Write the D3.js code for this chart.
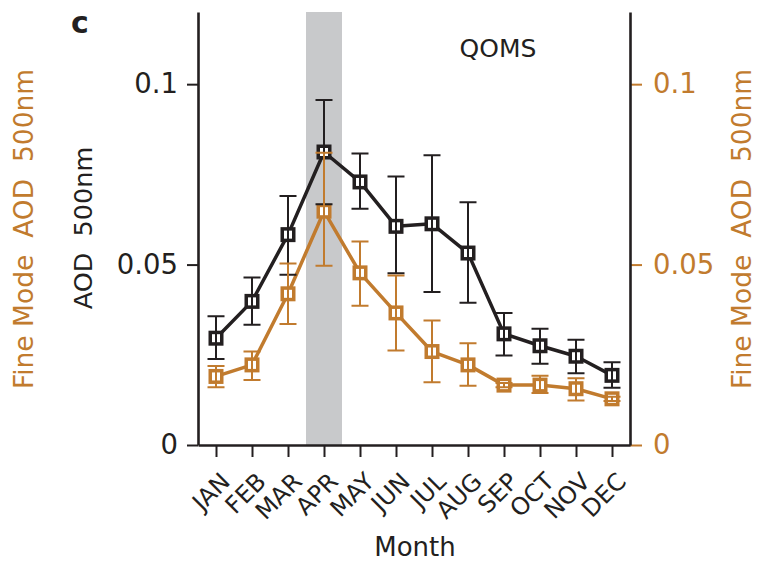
<!doctype html>
<html>
<head>
  <meta charset="UTF-8" />
  <title>QOMS monthly AOD</title>
  <style>
    html, body { margin: 0; background: #fff; }
    svg { font-family: "DejaVu Sans", sans-serif; }
  </style>
</head>
<body>
  <script src="https://cdnjs.cloudflare.com/ajax/libs/d3/7.8.5/d3.min.js"></script>
  <script>
    // data
    const months = ['JAN', 'FEB', 'MAR', 'APR', 'MAY', 'JUN', 'JUL', 'AUG', 'SEP', 'OCT', 'NOV', 'DEC'];
    const aod    = [0.0296, 0.0398, 0.0583, 0.0812, 0.0729, 0.0606, 0.0613, 0.0532, 0.0308, 0.0275, 0.0246, 0.0193];
    const aodHi  = [0.0357, 0.0464, 0.0690, 0.0956, 0.0808, 0.0744, 0.0803, 0.0673, 0.0366, 0.0322, 0.0292, 0.0229];
    const aodLo  = [0.0238, 0.0333, 0.0472, 0.0667, 0.0655, 0.0476, 0.0424, 0.0394, 0.0248, 0.0225, 0.0199, 0.0159];
    const fine   = [0.0190, 0.0222, 0.0419, 0.0648, 0.0477, 0.0366, 0.0259, 0.0222, 0.0166, 0.0166, 0.0156, 0.0128];
    const fineHi = [0.0219, 0.0259, 0.0503, 0.0810, 0.0564, 0.0470, 0.0345, 0.0282, 0.0172, 0.0192, 0.0185, 0.0134];
    const fineLo = [0.0160, 0.0180, 0.0335, 0.0497, 0.0386, 0.0262, 0.0174, 0.0164, 0.0160, 0.0144, 0.0123, 0.0122];
    const yTicks = [0, 0.05, 0.1];
    const highlight = 'APR';

    const BLACK = '#231f20', ORANGE = '#c17b2e';

    const width = 759, height = 561;
    const svg = d3.select('body').append('svg')
      .attr('width', width).attr('height', height);

    const x = d3.scalePoint().domain(months).range([198, 630]).padding(0.5);
    const y = d3.scaleLinear().domain([0, 0.12]).range([445, 12]);
    const step = x.step();

    // shaded month
    svg.append('rect')
      .attr('x', x(highlight) - step / 2).attr('width', step)
      .attr('y', y(0.12)).attr('height', y(0) - y(0.12))
      .attr('fill', '#c8c9cb');

    // axes
    const fmt = d3.format('');
    const left = svg.append('g').attr('transform', `translate(${x.range()[0]},0)`)
      .call(d3.axisLeft(y).tickValues(yTicks).tickSize(11).tickSizeOuter(0).tickPadding(9).tickFormat(fmt));
    const right = svg.append('g').attr('transform', `translate(${x.range()[1]},0)`)
      .call(d3.axisRight(y).tickValues(yTicks).tickSize(12).tickSizeOuter(0).tickPadding(11).tickFormat(fmt));
    const bottom = svg.append('g').attr('transform', `translate(0,${y(0)})`)
      .call(d3.axisBottom(x).tickSize(12).tickSizeOuter(0));

    [left, right, bottom].forEach(g => {
      g.attr('font-family', null).attr('font-size', null);
      g.select('.domain').attr('stroke', BLACK).attr('stroke-width', 2.6);
      g.selectAll('.tick line').attr('stroke', BLACK).attr('stroke-width', 2);
      g.selectAll('.tick text').attr('fill', BLACK).style('font-size', '27.5px');
    });
    right.selectAll('.tick line').attr('stroke', ORANGE);
    right.selectAll('.tick text').attr('fill', ORANGE);
    right.select('.domain').raise();

    bottom.selectAll('.tick text')
      .style('font-size', '24px')
      .attr('text-anchor', 'end')
      .attr('dy', null).attr('y', 0)
      .attr('transform', 'translate(15,38) rotate(-45)');

    // series
    function drawSeries(vals, color) {
      const line = d3.line().x((d, i) => x(months[i])).y(d => y(d));
      svg.append('path').datum(vals)
        .attr('fill', 'none').attr('stroke', color).attr('stroke-width', 3.5)
        .attr('stroke-linejoin', 'round')
        .attr('d', line);
      svg.append('g').selectAll('rect').data(vals).join('rect')
        .attr('x', (d, i) => x(months[i]) - 5.75).attr('y', d => y(d) - 5.75)
        .attr('width', 11.5).attr('height', 11.5)
        .attr('fill', '#fff').attr('stroke', color).attr('stroke-width', 3.5);
    }

    function drawErrors(lo, hi, color) {
      const g = svg.append('g').attr('stroke', color).attr('stroke-width', 2).attr('fill', 'none');
      months.forEach((m, i) => {
        const cx = x(m);
        g.append('path')
          .attr('d', `M${cx},${y(lo[i])}V${y(hi[i])}M${cx - 8.5},${y(hi[i])}h17M${cx - 8.5},${y(lo[i])}h17`);
      });
    }

    drawSeries(fine, ORANGE);
    drawSeries(aod, BLACK);
    drawErrors(aodLo, aodHi, BLACK);
    drawErrors(fineLo, fineHi, ORANGE);

    // labels
    svg.append('text').attr('x', 71).attr('y', 33)
      .style('font-size', '30px').style('font-weight', 'bold').attr('fill', BLACK).text('c');

    svg.append('text').attr('x', 498).attr('y', 57).attr('text-anchor', 'middle')
      .style('font-size', '25px').attr('fill', BLACK).text('QOMS');

    svg.append('text').attr('x', 415).attr('y', 556).attr('text-anchor', 'middle')
      .style('font-size', '26px').attr('fill', BLACK).text('Month');

    const yLabel = (cx, cy, txt, color, fs) => svg.append('text')
      .attr('transform', `translate(${cx},${cy}) rotate(-90)`)
      .attr('text-anchor', 'middle').attr('dy', '0.3em')
      .style('font-size', fs + 'px').style('white-space', 'pre')
      .attr('fill', color).text(txt);

    yLabel(84, 228, 'AOD  500nm', BLACK, 25.5);
    yLabel(25, 229, 'Fine Mode  AOD  500nm', ORANGE, 26.5);
    yLabel(743, 229, 'Fine Mode  AOD  500nm', ORANGE, 26.5);
  </script>
</body>
</html>
